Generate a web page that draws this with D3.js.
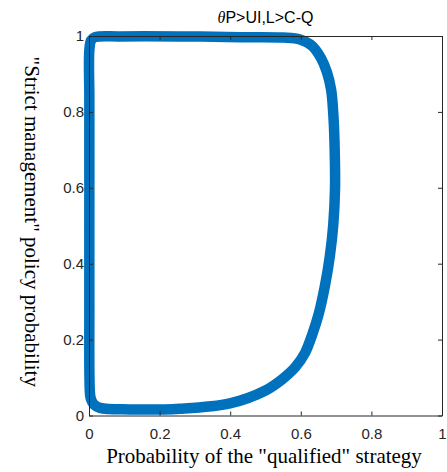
<!DOCTYPE html>
<html>
<head>
<meta charset="utf-8">
<script src="https://cdn.jsdelivr.net/npm/d3@7"></script>
<style>
  html, body { margin: 0; padding: 0; background: #fff; }
  svg { display: block; }
</style>
</head>
<body>
<svg id="chart" width="447" height="472"></svg>
<script>
// ---- data ----
const xTicks = [0, 0.2, 0.4, 0.6, 0.8, 1];
const yTicks = [0, 0.2, 0.4, 0.6, 0.8, 1];
const xTickLabels = ["0", "0.2", "0.4", "0.6", "0.8", "1"];
const yTickLabels = ["0", "0.2", "0.4", "0.6", "0.8", "1"];
// trajectory: probability of "qualified" strategy (x) and "strict management" policy (y)
const trajX = [0.003, 0.001, 0.001, 0.001, 0.001, 0.006, 0.017, 0.088, 0.258, 0.428, 0.550, 0.598, 0.632, 0.657, 0.674, 0.686, 0.693, 0.696, 0.697, 0.692, 0.682, 0.668, 0.650, 0.633, 0.612, 0.585, 0.548, 0.500, 0.399, 0.258, 0.116, 0.031, 0.014, 0.006];
const trajY = [0.055, 0.305, 0.568, 0.832, 0.963, 0.989, 0.997, 0.999, 0.999, 0.997, 0.996, 0.991, 0.974, 0.942, 0.905, 0.858, 0.779, 0.700, 0.600, 0.503, 0.418, 0.340, 0.265, 0.215, 0.165, 0.128, 0.096, 0.066, 0.032, 0.018, 0.016, 0.020, 0.029, 0.042];
const titleTheta = "θ";
const titleRest = "P>UI,L>C-Q";
const xLabel = "Probability of the \"qualified\" strategy";
const yLabel = "\"Strict management\" policy probability";

// ---- layout ----
const L = 89, R = 442, T = 36, B = 415.5;
const axisColor = "#262626";
const lineColor = "#0072BD";

const svg = d3.select("#chart");
const x = d3.scaleLinear().domain([0, 1]).range([L, R]);
const y = d3.scaleLinear().domain([0, 1]).range([B, T]);

// trajectory band
const pts = trajX.map((v, i) => [v, trajY[i]]);
const line = d3.line()
  .x(d => x(d[0]))
  .y(d => y(d[1]))
  .curve(d3.curveCatmullRomClosed.alpha(0.5));

svg.append("path")
  .attr("d", line(pts))
  .attr("fill", "none")
  .attr("stroke", lineColor)
  .attr("stroke-width", 10.5)
  .attr("stroke-linejoin", "round");

// axes (box with inward ticks)
const tickLen = 4;
const fontTick = "'Liberation Sans', Arial, Helvetica, sans-serif";

const gx = svg.append("g").attr("transform", `translate(0,${B})`)
  .call(d3.axisBottom(x).tickValues(xTicks).tickFormat((d, i) => xTickLabels[i]).tickSizeInner(-tickLen).tickSizeOuter(0).tickPadding(13));
const gxTop = svg.append("g").attr("transform", `translate(0,${T})`)
  .call(d3.axisTop(x).tickValues(xTicks).tickFormat("").tickSizeInner(-tickLen).tickSizeOuter(0));
const gy = svg.append("g").attr("transform", `translate(${L},0)`)
  .call(d3.axisLeft(y).tickValues(yTicks).tickFormat((d, i) => yTickLabels[i]).tickSizeInner(-tickLen).tickSizeOuter(0).tickPadding(5));
const gyRight = svg.append("g").attr("transform", `translate(${R},0)`)
  .call(d3.axisRight(y).tickValues(yTicks).tickFormat("").tickSizeInner(-tickLen).tickSizeOuter(0));

[gx, gxTop, gy, gyRight].forEach(g => {
  g.select(".domain").attr("stroke", axisColor).attr("stroke-width", 1);
  g.selectAll(".tick line").attr("stroke", axisColor).attr("stroke-width", 1);
  g.selectAll(".tick text").attr("fill", axisColor)
    .style("font-family", fontTick).style("font-size", "15px");
});

// title
const title = svg.append("text")
  .attr("x", (L + R) / 2).attr("y", 23)
  .attr("text-anchor", "middle")
  .attr("fill", "#000")
  .style("font-family", fontTick).style("font-size", "16px");
title.append("tspan").text(titleTheta)
  .style("font-family", "'Liberation Serif', 'Times New Roman', serif").style("font-style", "italic");
title.append("tspan").text(titleRest);

// axis labels
svg.append("text")
  .attr("x", 264).attr("y", 463)
  .attr("text-anchor", "middle")
  .attr("fill", "#000")
  .style("font-family", "'Liberation Serif', 'Times New Roman', serif").style("font-size", "21px")
  .text(xLabel);

svg.append("text")
  .attr("transform", `translate(25,${(T + B) / 2 - 4}) rotate(90)`)
  .attr("text-anchor", "middle")
  .attr("fill", "#000")
  .style("font-family", "'Liberation Serif', 'Times New Roman', serif").style("font-size", "21px")
  .text(yLabel);
</script>
</body>
</html>
